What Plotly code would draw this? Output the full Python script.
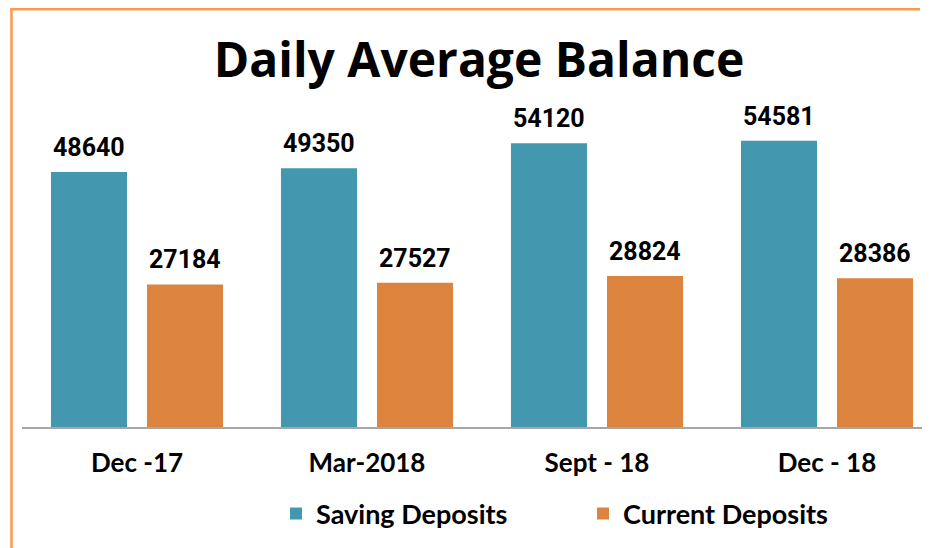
import plotly.graph_objects as go

categories = ["Dec -17", "Mar-2018", "Sept - 18", "Dec - 18"]
saving = [48640, 49350, 54120, 54581]
current = [27184, 27527, 28824, 28386]
series_names = ["Saving Deposits", "Current Deposits"]
colors = ["#4398B0", "#DC843E"]

# page body offset (browser default margin)
OFF = 8
W, H = 930, 548
ml, mr, mt, mb = 22 - OFF, 0, 100 - OFF, 121 + OFF
plot_w = W - ml - mr
plot_h = H - mt - mb
px_per_unit = 255 / 48640
ymax = plot_h / px_per_unit


def px_x(p):
    return (p - OFF - ml) / plot_w


def px_y(p):
    return (H - mb - (p - OFF)) / plot_h


fig = go.Figure()
for name, vals, col in zip(series_names, [saving, current], colors):
    fig.add_trace(go.Bar(x=categories, y=vals, name=name, marker=dict(color=col, line=dict(width=0))))

# value labels
for vals, shift in [(saving, -48), (current, 48)]:
    for c, v in zip(categories, vals):
        fig.add_annotation(x=c, y=v, text=f"<b>{v}</b>", showarrow=False, xshift=shift,
                           yanchor="bottom", yshift=8,
                           font=dict(family="Roboto", size=25, color="#000"))

orange = "#F79A4F"
fig.add_shape(type="line", xref="paper", yref="paper", x0=px_x(10.5), x1=px_x(920), y0=px_y(9.2), y1=px_y(9.2),
              line=dict(color=orange, width=2.5))
fig.add_shape(type="line", xref="paper", yref="paper", x0=px_x(11.5), x1=px_x(11.5), y0=px_y(8), y1=px_y(570),
              line=dict(color=orange, width=2.5))

fig.update_layout(
    width=W, height=H,
    margin=dict(l=ml, r=mr, t=mt, b=mb),
    paper_bgcolor="white", plot_bgcolor="white",
    barmode="group", bargap=0.165, bargroupgap=0.208,
    title=dict(text="<b>Daily Average Balance</b>", x=(479 - OFF) / W, xanchor="center",
               y=1 - (60 - OFF) / H, yanchor="middle",
               font=dict(family="Open Sans", size=48, color="#000")),
    showlegend=True,
    legend=dict(orientation="h", x=px_x(276), xanchor="left", y=px_y(514), yanchor="middle",
                font=dict(family="Lato", size=27, color="#000", weight="bold"),
                entrywidth=262, entrywidthmode="pixels", itemclick=False),
    xaxis=dict(range=[-0.5, -0.5 + plot_w / 230], showline=True, linecolor="#A6A6A6", linewidth=2,
               ticks="outside", ticklen=12, tickcolor="rgba(0,0,0,0)",
               tickfont=dict(family="Lato", size=26, color="#000"), showgrid=False,
               tickvals=categories, ticktext=[f"<b>{c}</b>" for c in categories]),
    yaxis=dict(range=[0, ymax], visible=False, showgrid=False),
)

fig.write_html("out.html")
